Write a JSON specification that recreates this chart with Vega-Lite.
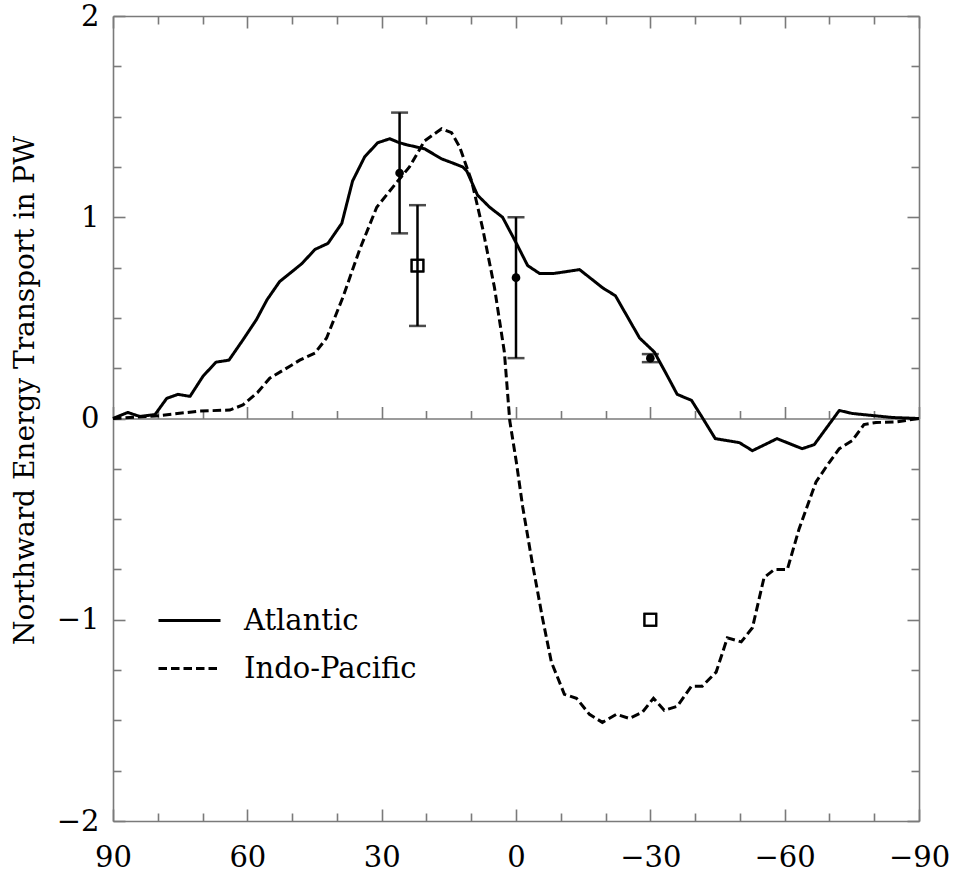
{
  "$schema": "https://vega.github.io/schema/vega-lite/v6.json",
  "width": 806,
  "height": 805,
  "autosize": {"type": "none"},
  "padding": {"left": 113, "top": 16, "right": 35, "bottom": 56},
  "background": "white",
  "config": {
    "view": {"stroke": null},
    "axis": {
      "grid": false,
      "domainColor": "#7a7a7a",
      "tickColor": "#7a7a7a",
      "domainWidth": 1.6,
      "tickWidth": 1.6,
      "labelFont": "DejaVu Serif",
      "labelFontSize": 29,
      "labelColor": "black",
      "labelFlush": false,
      "titleFont": "DejaVu Serif",
      "titleColor": "black",
      "titleFontWeight": "normal"
    }
  },
  "datasets": {
    "curves": [
      {"ocean": "Atlantic", "lat": 90, "pw": 0},
      {"ocean": "Atlantic", "lat": 86.7, "pw": 0.03},
      {"ocean": "Atlantic", "lat": 84.0, "pw": 0.01},
      {"ocean": "Atlantic", "lat": 80.6, "pw": 0.02},
      {"ocean": "Atlantic", "lat": 78.0, "pw": 0.10},
      {"ocean": "Atlantic", "lat": 75.5, "pw": 0.12},
      {"ocean": "Atlantic", "lat": 72.8, "pw": 0.11},
      {"ocean": "Atlantic", "lat": 69.9, "pw": 0.21},
      {"ocean": "Atlantic", "lat": 67.0, "pw": 0.28},
      {"ocean": "Atlantic", "lat": 64.1, "pw": 0.29},
      {"ocean": "Atlantic", "lat": 61.0, "pw": 0.39},
      {"ocean": "Atlantic", "lat": 58.0, "pw": 0.49},
      {"ocean": "Atlantic", "lat": 55.6, "pw": 0.59},
      {"ocean": "Atlantic", "lat": 52.8, "pw": 0.68},
      {"ocean": "Atlantic", "lat": 47.8, "pw": 0.77},
      {"ocean": "Atlantic", "lat": 44.9, "pw": 0.84},
      {"ocean": "Atlantic", "lat": 42.0, "pw": 0.87},
      {"ocean": "Atlantic", "lat": 38.9, "pw": 0.97},
      {"ocean": "Atlantic", "lat": 36.5, "pw": 1.18},
      {"ocean": "Atlantic", "lat": 33.8, "pw": 1.30},
      {"ocean": "Atlantic", "lat": 30.9, "pw": 1.37},
      {"ocean": "Atlantic", "lat": 28.2, "pw": 1.39},
      {"ocean": "Atlantic", "lat": 26.0, "pw": 1.37},
      {"ocean": "Atlantic", "lat": 24.4, "pw": 1.36},
      {"ocean": "Atlantic", "lat": 20.4, "pw": 1.34},
      {"ocean": "Atlantic", "lat": 16.6, "pw": 1.29},
      {"ocean": "Atlantic", "lat": 14.2, "pw": 1.27},
      {"ocean": "Atlantic", "lat": 11.9, "pw": 1.25},
      {"ocean": "Atlantic", "lat": 11.0, "pw": 1.23},
      {"ocean": "Atlantic", "lat": 8.6, "pw": 1.11},
      {"ocean": "Atlantic", "lat": 5.9, "pw": 1.05},
      {"ocean": "Atlantic", "lat": 3.0, "pw": 1.00},
      {"ocean": "Atlantic", "lat": -0.1, "pw": 0.87},
      {"ocean": "Atlantic", "lat": -2.6, "pw": 0.76},
      {"ocean": "Atlantic", "lat": -5.3, "pw": 0.72},
      {"ocean": "Atlantic", "lat": -8.2, "pw": 0.72},
      {"ocean": "Atlantic", "lat": -11.3, "pw": 0.73},
      {"ocean": "Atlantic", "lat": -14.2, "pw": 0.74},
      {"ocean": "Atlantic", "lat": -19.3, "pw": 0.65},
      {"ocean": "Atlantic", "lat": -22.2, "pw": 0.61},
      {"ocean": "Atlantic", "lat": -27.6, "pw": 0.40},
      {"ocean": "Atlantic", "lat": -30.9, "pw": 0.33},
      {"ocean": "Atlantic", "lat": -33.6, "pw": 0.22},
      {"ocean": "Atlantic", "lat": -36.0, "pw": 0.12},
      {"ocean": "Atlantic", "lat": -39.2, "pw": 0.09},
      {"ocean": "Atlantic", "lat": -41.6, "pw": 0.005},
      {"ocean": "Atlantic", "lat": -44.5, "pw": -0.10},
      {"ocean": "Atlantic", "lat": -47.2, "pw": -0.11},
      {"ocean": "Atlantic", "lat": -49.9, "pw": -0.12},
      {"ocean": "Atlantic", "lat": -52.8, "pw": -0.16},
      {"ocean": "Atlantic", "lat": -58.3, "pw": -0.10},
      {"ocean": "Atlantic", "lat": -63.9, "pw": -0.15},
      {"ocean": "Atlantic", "lat": -66.6, "pw": -0.13},
      {"ocean": "Atlantic", "lat": -72.2, "pw": 0.04},
      {"ocean": "Atlantic", "lat": -75.1, "pw": 0.025},
      {"ocean": "Atlantic", "lat": -79.5, "pw": 0.015},
      {"ocean": "Atlantic", "lat": -84.0, "pw": 0.005},
      {"ocean": "Atlantic", "lat": -90, "pw": 0},
      {"ocean": "Indo-Pacific", "lat": 90, "pw": 0},
      {"ocean": "Indo-Pacific", "lat": 80.6, "pw": 0.012},
      {"ocean": "Indo-Pacific", "lat": 70.6, "pw": 0.037},
      {"ocean": "Indo-Pacific", "lat": 63.9, "pw": 0.042},
      {"ocean": "Indo-Pacific", "lat": 61.0, "pw": 0.067},
      {"ocean": "Indo-Pacific", "lat": 57.7, "pw": 0.13},
      {"ocean": "Indo-Pacific", "lat": 55.0, "pw": 0.20},
      {"ocean": "Indo-Pacific", "lat": 50.5, "pw": 0.26},
      {"ocean": "Indo-Pacific", "lat": 48.3, "pw": 0.29},
      {"ocean": "Indo-Pacific", "lat": 44.9, "pw": 0.325},
      {"ocean": "Indo-Pacific", "lat": 42.3, "pw": 0.40},
      {"ocean": "Indo-Pacific", "lat": 38.7, "pw": 0.60},
      {"ocean": "Indo-Pacific", "lat": 34.9, "pw": 0.84},
      {"ocean": "Indo-Pacific", "lat": 31.1, "pw": 1.05},
      {"ocean": "Indo-Pacific", "lat": 27.5, "pw": 1.15},
      {"ocean": "Indo-Pacific", "lat": 23.8, "pw": 1.25},
      {"ocean": "Indo-Pacific", "lat": 20.4, "pw": 1.38},
      {"ocean": "Indo-Pacific", "lat": 16.6, "pw": 1.44},
      {"ocean": "Indo-Pacific", "lat": 14.4, "pw": 1.42},
      {"ocean": "Indo-Pacific", "lat": 12.6, "pw": 1.35},
      {"ocean": "Indo-Pacific", "lat": 9.9, "pw": 1.18},
      {"ocean": "Indo-Pacific", "lat": 7.5, "pw": 0.95},
      {"ocean": "Indo-Pacific", "lat": 4.8, "pw": 0.65},
      {"ocean": "Indo-Pacific", "lat": 2.6, "pw": 0.33},
      {"ocean": "Indo-Pacific", "lat": 1.4, "pw": -0.01},
      {"ocean": "Indo-Pacific", "lat": -0.1, "pw": -0.22},
      {"ocean": "Indo-Pacific", "lat": -1.5, "pw": -0.44},
      {"ocean": "Indo-Pacific", "lat": -3.5, "pw": -0.70},
      {"ocean": "Indo-Pacific", "lat": -5.9, "pw": -0.99},
      {"ocean": "Indo-Pacific", "lat": -7.9, "pw": -1.21},
      {"ocean": "Indo-Pacific", "lat": -10.8, "pw": -1.37},
      {"ocean": "Indo-Pacific", "lat": -13.5, "pw": -1.39},
      {"ocean": "Indo-Pacific", "lat": -16.4, "pw": -1.47},
      {"ocean": "Indo-Pacific", "lat": -19.3, "pw": -1.51},
      {"ocean": "Indo-Pacific", "lat": -22.4, "pw": -1.47},
      {"ocean": "Indo-Pacific", "lat": -25.3, "pw": -1.49},
      {"ocean": "Indo-Pacific", "lat": -28.2, "pw": -1.46},
      {"ocean": "Indo-Pacific", "lat": -30.7, "pw": -1.39},
      {"ocean": "Indo-Pacific", "lat": -33.1, "pw": -1.45},
      {"ocean": "Indo-Pacific", "lat": -36.0, "pw": -1.43},
      {"ocean": "Indo-Pacific", "lat": -39.2, "pw": -1.33},
      {"ocean": "Indo-Pacific", "lat": -41.6, "pw": -1.33},
      {"ocean": "Indo-Pacific", "lat": -44.7, "pw": -1.26},
      {"ocean": "Indo-Pacific", "lat": -47.2, "pw": -1.09},
      {"ocean": "Indo-Pacific", "lat": -50.3, "pw": -1.11},
      {"ocean": "Indo-Pacific", "lat": -52.8, "pw": -1.04},
      {"ocean": "Indo-Pacific", "lat": -55.4, "pw": -0.79},
      {"ocean": "Indo-Pacific", "lat": -57.7, "pw": -0.75},
      {"ocean": "Indo-Pacific", "lat": -60.6, "pw": -0.75},
      {"ocean": "Indo-Pacific", "lat": -63.2, "pw": -0.55},
      {"ocean": "Indo-Pacific", "lat": -67.0, "pw": -0.315},
      {"ocean": "Indo-Pacific", "lat": -69.9, "pw": -0.22},
      {"ocean": "Indo-Pacific", "lat": -72.2, "pw": -0.15},
      {"ocean": "Indo-Pacific", "lat": -75.1, "pw": -0.11},
      {"ocean": "Indo-Pacific", "lat": -77.7, "pw": -0.03},
      {"ocean": "Indo-Pacific", "lat": -80.4, "pw": -0.02},
      {"ocean": "Indo-Pacific", "lat": -84.9, "pw": -0.017},
      {"ocean": "Indo-Pacific", "lat": -90, "pw": 0}
    ],
    "obs": [
      {"kind": "circle", "lat": 26, "pw": 1.22, "lo": 0.92, "hi": 1.52},
      {"kind": "square", "lat": 22, "pw": 0.76, "lo": 0.46, "hi": 1.06},
      {"kind": "circle", "lat": 0, "pw": 0.70, "lo": 0.30, "hi": 1.00},
      {"kind": "circle", "lat": -30, "pw": 0.30, "lo": 0.28, "hi": 0.32},
      {"kind": "square", "lat": -30, "pw": -1.00}
    ]
  },
  "resolve": {"axis": {"x": "independent", "y": "independent"}},
  "layer": [
    {
      "data": {"name": "curves"},
      "transform": [{"filter": "datum.ocean === 'Atlantic'"}],
      "mark": {"type": "line", "color": "black", "strokeWidth": 3, "strokeJoin": "round"},
      "encoding": {
        "x": {"field": "lat", "type": "quantitative",
          "scale": {"domain": [-90, 90], "reverse": true, "nice": false, "zero": false},
          "axis": {"orient": "bottom", "values": [90, 60, 30, 0, -30, -60, -90], "format": "d", "tickSize": -12, "labelPadding": 34, "title": null}},
        "y": {"field": "pw", "type": "quantitative",
          "scale": {"domain": [-2, 2], "nice": false, "zero": false},
          "axis": {"orient": "left", "values": [-2, -1, 0, 1, 2], "format": "d", "tickSize": -12, "labelPadding": 26,
            "title": "Northward Energy Transport in PW", "titleFontSize": 28, "titleX": -80, "titleY": 374, "titleAngle": -90, "titleBaseline": "alphabetic", "titleAlign": "center"}},
        "strokeDash": {"field": "ocean", "type": "nominal",
          "scale": {"domain": ["Atlantic", "Indo-Pacific"], "range": [[1, 0], [8.5, 4]]},
          "legend": {"orient": "none", "legendX": 44, "legendY": 572, "title": null, "symbolType": "stroke", "symbolSize": 3844, "symbolStrokeWidth": 3, "symbolStrokeColor": "black", "labelFont": "DejaVu Serif", "labelFontSize": 29, "labelColor": "black", "labelLimit": 0, "labelOffset": 22, "rowPadding": -25, "padding": 0}}
      }
    },
    {
      "data": {"name": "curves"},
      "transform": [{"filter": "datum.ocean === 'Indo-Pacific'"}],
      "mark": {"type": "line", "color": "black", "strokeWidth": 3},
      "encoding": {
        "x": {"field": "lat", "type": "quantitative",
          "axis": {"orient": "bottom", "values": [80, 70, 50, 40, 20, 10, -10, -20, -40, -50, -70, -80], "tickSize": -8, "labels": false, "domain": false, "title": null}},
        "y": {"field": "pw", "type": "quantitative",
          "axis": {"orient": "left", "values": [-1.75, -1.5, -1.25, -0.75, -0.5, -0.25, 0.25, 0.5, 0.75, 1.25, 1.5, 1.75], "tickSize": -8, "labels": false, "domain": false, "title": null}},
        "strokeDash": {"field": "ocean", "type": "nominal"}
      }
    },
    {
      "data": {"name": "obs"},
      "transform": [{"filter": "datum.hi != null"}],
      "mark": {"type": "errorbar", "color": "black", "ticks": {"size": 17, "thickness": 2.5, "color": "black"}, "rule": {"strokeWidth": 2.5, "color": "black"}},
      "encoding": {
        "x": {"field": "lat", "type": "quantitative",
          "axis": {"orient": "top", "values": [90, 60, 30, 0, -30, -60, -90], "tickSize": -12, "labels": false, "title": null}},
        "y": {"field": "lo", "type": "quantitative",
          "axis": {"orient": "right", "values": [-2, -1, 0, 1, 2], "tickSize": -12, "labels": false, "title": null}},
        "y2": {"field": "hi"}
      }
    },
    {
      "data": {"name": "obs"},
      "transform": [{"filter": "datum.kind === 'circle'"}],
      "mark": {"type": "point", "shape": "circle", "filled": true, "color": "black", "size": 75, "opacity": 1},
      "encoding": {
        "x": {"field": "lat", "type": "quantitative",
          "axis": {"orient": "top", "values": [80, 70, 50, 40, 20, 10, -10, -20, -40, -50, -70, -80], "tickSize": -8, "labels": false, "domain": false, "title": null}},
        "y": {"field": "pw", "type": "quantitative",
          "axis": {"orient": "right", "values": [-1.75, -1.5, -1.25, -0.75, -0.5, -0.25, 0.25, 0.5, 0.75, 1.25, 1.5, 1.75], "tickSize": -8, "labels": false, "domain": false, "title": null}}
      }
    },
    {
      "data": {"name": "obs"},
      "transform": [{"filter": "datum.kind === 'square'"}],
      "mark": {"type": "point", "shape": "square", "filled": false, "color": "black", "size": 140, "strokeWidth": 2, "opacity": 1},
      "encoding": {
        "x": {"field": "lat", "type": "quantitative",
          "axis": {"orient": "bottom", "offset": -402.5, "values": [90, 60, 30, 0, -30, -60, -90], "tickSize": -12, "labels": false, "title": null}},
        "y": {"field": "pw", "type": "quantitative", "axis": null}
      }
    },
    {
      "data": {"name": "obs"},
      "transform": [{"filter": "datum.kind === 'square'"}],
      "mark": {"type": "point", "shape": "square", "filled": false, "color": "black", "size": 140, "strokeWidth": 2, "opacity": 1},
      "encoding": {
        "x": {"field": "lat", "type": "quantitative",
          "axis": {"orient": "bottom", "offset": -402.5, "values": [80, 70, 50, 40, 20, 10, -10, -20, -40, -50, -70, -80], "tickSize": -8, "labels": false, "domain": false, "title": null}},
        "y": {"field": "pw", "type": "quantitative", "axis": null}
      }
    }
  ]
}
